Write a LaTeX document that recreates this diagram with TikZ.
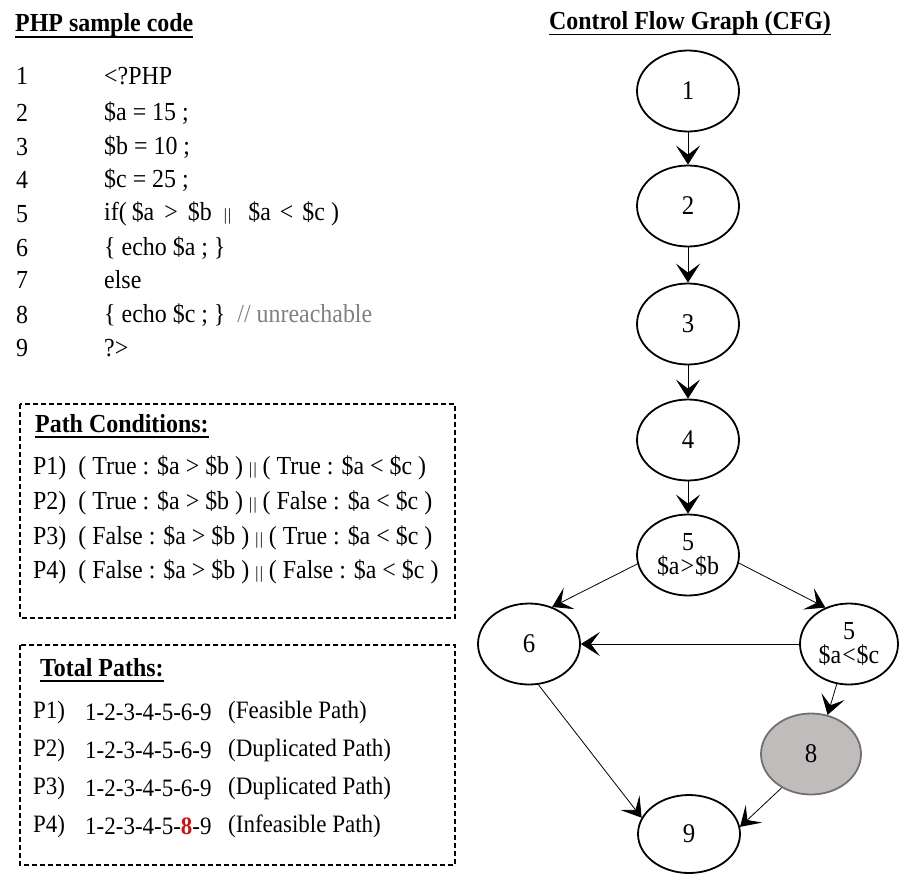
\documentclass[tikz,border=0pt]{standalone}
\usepackage{fontspec}
\setmainfont[FakeStretch=0.92]{Liberation Serif}
\usetikzlibrary{arrows.meta,shapes.geometric}
\definecolor{grayfill}{RGB}{193,188,188}
\definecolor{grayedge}{RGB}{115,112,112}
\definecolor{commentgray}{RGB}{128,128,128}
\definecolor{darkred}{RGB}{200,20,20}
\newcommand\orbars{\raisebox{0.02em}{\fontsize{17}{17}\selectfont |\kern0.08em|}}

\begin{document}
\begin{tikzpicture}[x=1pt,y=-1pt,
  txt/.style={inner sep=0pt, font=\fontsize{26}{30}\selectfont},
  pathtxt/.style={inner sep=0pt, font=\fontsize{25}{30}\selectfont},
  ttl/.style={inner sep=0pt, font=\fontsize{26}{30}\selectfont\bfseries},
  cfgnode/.style={ellipse, draw, line width=1.8pt, minimum width=102pt,
    minimum height=81pt, inner sep=0pt, font=\fontsize{27}{27}\selectfont},
  cndnode/.style={cfgnode, align=center, font=\fontsize{26}{24}\selectfont},
  flow/.style={-{Stealth[length=19pt,width=24pt,inset=9pt]}, line width=0.8pt},
  box/.style={draw, dashed, line width=1.2pt, dash pattern=on 5pt off 3pt}]
\useasboundingbox (0,0) rectangle (899,873);

% ---- left column: source listing ----
\node[ttl, anchor=base west] (phpttl) at (15,31) {PHP sample code};
\draw[line width=1.3pt] ([yshift=-6pt]phpttl.base west) -- ([yshift=-6pt]phpttl.base east);

\foreach \n/\y in {1/76,2/113,3/147,4/180,5/214,6/248,7/280,8/315,9/348}{
  \node[txt] (ln\n) at (22,\y) {\n};
}
\node[txt, anchor=west] (c1) at (104,76) {<?PHP};
\node[txt, anchor=west] (c2) at (104,113) {\$a = 15 ;};
\node[txt, anchor=west] (c3) at (104,147) {\$b = 10 ;};
\node[txt, anchor=west] (c4) at (104,180) {\$c = 25 ;};
\node[txt, anchor=west] (c5) at (104,214)
  {if(\hspace{5pt}\$a\hspace{10pt}>\hspace{10pt}\$b\hspace{12pt}\orbars\hspace{17pt}\$a\hspace{9pt}<\hspace{9pt}\$c\hspace{6pt})};
\node[txt, anchor=west] (c6) at (104,248) {\{ echo \$a ; \}};
\node[txt, anchor=west] (c7) at (104,280) {else};
\node[txt, anchor=west] (c8) at (104,315) {\{ echo \$c ; \}\ \ \textcolor{commentgray}{// unreachable}};
\node[txt, anchor=west] (c9) at (104,348) {?>};

% ---- path conditions box ----
\draw[box] (20,404) rectangle (455,618);
\node[ttl, anchor=base west] (pcttl) at (35,432) {Path Conditions:};
\draw[line width=1.3pt] ([yshift=-5pt]pcttl.base west) -- ([yshift=-5pt]pcttl.base east);
\node[txt, anchor=west] (pc1) at (33,468) {P1)\ \ ( True : \$a > \$b ) \orbars\ ( True : \$a < \$c )};
\node[txt, anchor=west] (pc2) at (33,503) {P2)\ \ ( True : \$a > \$b ) \orbars\ ( False : \$a < \$c )};
\node[txt, anchor=west] (pc3) at (33,538) {P3)\ \ ( False : \$a > \$b ) \orbars\ ( True : \$a < \$c )};
\node[txt, anchor=west] (pc4) at (33,572) {P4)\ \ ( False : \$a > \$b ) \orbars\ ( False : \$a < \$c )};

% ---- total paths box ----
\draw[box] (20,645) rectangle (455,865);
\node[ttl, anchor=base west] (tpttl) at (40,676) {Total Paths:};
\draw[line width=1.3pt] ([yshift=-5pt]tpttl.base west) -- ([yshift=-5pt]tpttl.base east);
\foreach \p/\y/\seq/\kind in {1/712/1-2-3-4-5-6-9/Feasible Path,
                              2/750/1-2-3-4-5-6-9/Duplicated Path,
                              3/788/1-2-3-4-5-6-9/Duplicated Path}{
  \node[pathtxt, anchor=west] (tp\p a) at (33,\y) {P\p)};
  \node[pathtxt, anchor=west] (tp\p b) at (85,\y) {\seq};
  \node[pathtxt, anchor=west] (tp\p c) at (228,\y) {(\kind)};
}
\node[pathtxt, anchor=west] (tp4a) at (33,826) {P4)};
\node[pathtxt, anchor=west] (tp4b) at (85,826) {1-2-3-4-5-\textcolor{darkred}{\textbf{8}}-9};
\node[pathtxt, anchor=west] (tp4c) at (228,826) {(Infeasible Path)};

% ---- right column: control flow graph ----
\node[ttl] (cfgttl) at (690,23) {Control Flow Graph (CFG)};
\draw[line width=1.3pt] ([yshift=-5pt]cfgttl.base west) -- ([yshift=-5pt]cfgttl.base east);

\node[cfgnode] (n1) at (688,91) {1};
\node[cfgnode] (n2) at (688,206) {2};
\node[cfgnode] (n3) at (688,324) {3};
\node[cfgnode] (n4) at (688,440) {4};
\node[cndnode] (n5a) at (688,555) {5\\\$a\kern1pt>\kern1pt\$b};
\node[cfgnode] (n6) at (529,644) {6};
\node[cndnode, minimum width=98pt] (n5b) at (849,644) {5\\\$a\kern1pt<\kern1pt\$c};
\node[cfgnode, fill=grayfill, draw=grayedge, minimum width=100pt] (n8) at (811,754) {8};
\node[cfgnode, minimum height=78pt] (n9) at (689,834) {9};

\draw[flow] (n1.south) -- (n2.north);
\draw[flow] (n2.south) -- (n3.north);
\draw[flow] (n3.south) -- (n4.north);
\draw[flow] (n4.south) -- (n5a.north);
\draw[flow] (n5a.190) -- (n6.58);
\draw[flow] (n5a.-9) -- (n5b.123);
\draw[flow] (n5b.west) -- (n6.east);
\draw[flow] (n5b.253) -- (n8.67);
\draw[flow] (n6.283) -- (n9.161);
\draw[flow] (n8.229) -- (n9.8);
\end{tikzpicture}
\end{document}
